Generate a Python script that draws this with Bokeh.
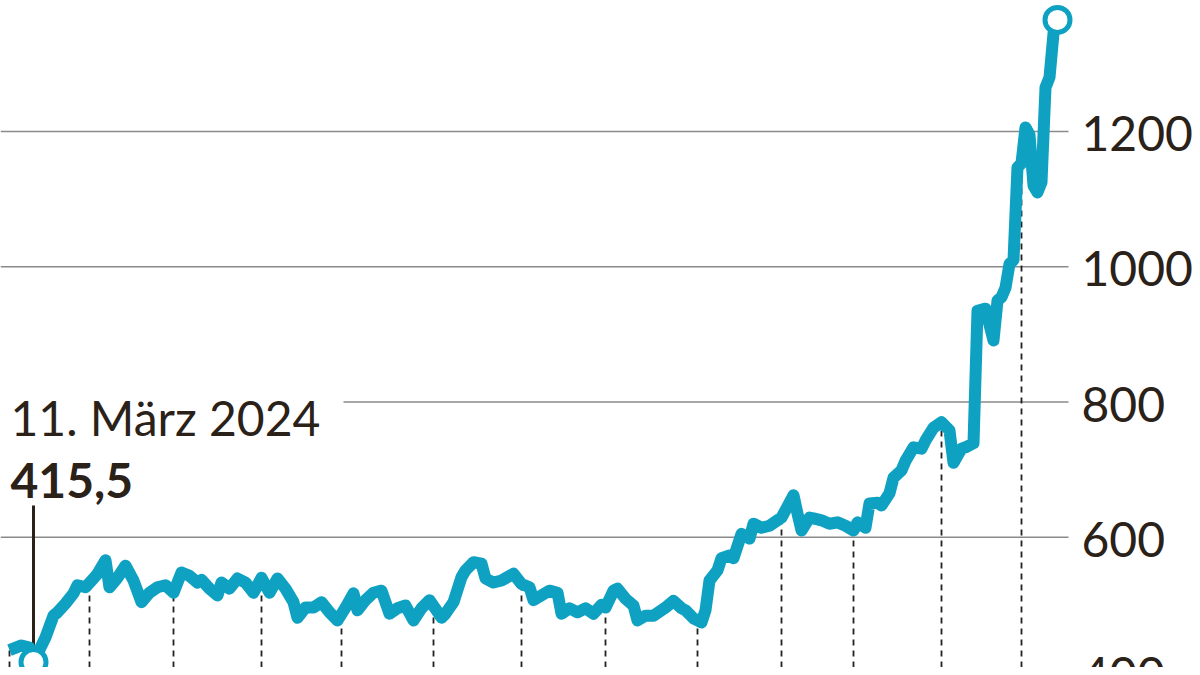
import numpy as np
from bokeh.plotting import figure
from bokeh.models import Range1d
from bokeh.core.properties import value
from bokeh.embed import file_html
from bokeh.resources import INLINE

# ---------------- data (trading days counted from 1 March 2024) ----------------
trading_day = [0, 3, 5, 6, 9, 11, 12, 14, 16, 17, 19, 21, 22, 24, 25, 27, 29, 31, 33, 35,
               37, 39, 41, 43, 45, 47, 48, 50, 52, 53, 55, 57, 59, 61, 63, 65, 67, 69, 71, 72,
               74, 76, 78, 80, 82, 84, 86, 87, 89, 91, 93, 95, 97, 99, 101, 103, 105, 108, 109, 111,
               113, 114, 116, 118, 119, 121, 123, 126, 128, 130, 131, 133, 135, 137, 138, 140, 142, 144, 146, 148,
               149, 151, 152, 154, 156, 157, 159, 161, 163, 164, 166, 168, 169, 171, 173, 174, 175, 177, 178, 180,
               181, 183, 185, 186, 188, 190, 192, 193, 196, 197, 198, 200, 201, 203, 205, 207, 209, 211, 212, 214,
               215, 217, 218, 220, 221, 223, 224, 226, 228, 229, 231, 233, 235, 236, 238, 239, 241, 242, 244, 246,
               247, 248, 249, 250, 251, 252, 253, 254, 255, 256, 257, 258, 259, 260, 261, 262]
price = [433, 440, 437, 415.5, 452, 484, 489, 502, 517, 529, 526, 539, 546, 566, 526, 540, 558, 536, 504, 518,
         526, 529, 518, 548, 543, 533, 537, 524, 514, 533, 524, 539, 533, 518, 540, 518, 539, 524, 504, 481,
         496, 496, 504, 489, 477, 496, 517, 492, 507, 518, 521, 487, 495, 499, 477, 495, 507, 481, 487, 504,
         541, 551, 563, 561, 539, 533, 536, 546, 531, 526, 507, 514, 521, 518, 487, 495, 489, 495, 487, 500,
         496, 521, 524, 509, 499, 477, 484, 484, 492, 496, 506, 495, 492, 480, 474, 492, 536, 551, 569, 573,
         569, 605, 598, 620, 614, 617, 625, 629, 662, 635, 610, 629, 628, 625, 620, 622, 617, 610, 622, 614,
         650, 651, 647, 665, 688, 699, 713, 733, 731, 743, 762, 770, 758, 710, 731, 733, 739, 935, 938, 891,
         950, 955, 969, 1004, 1010, 1147, 1153, 1206, 1195, 1120, 1110, 1125, 1265, 1280, 1345, 1365]

# first trading day of each month, Mar 2024 .. Mar 2025
month_start_day = [0, 20, 41, 63, 83, 106, 128, 149, 172, 193, 211, 233, 253]

y_ticks = [400, 600, 800, 1000, 1200]
y_tick_labels = ["400", "600", "800", "1000", "1200"]

start_day = 6
start_value = 415.5
start_date_text = "11. März 2024"
start_value_text = "415,5"

# ---------------- layout helpers (reference-pixel -> data) ----------------
W, H = 1192, 667
PX_PER_DAY = 4.0
X_DAY0 = 9
PX_PER_UNIT = 135.25 / 200.0
Y_400 = 672


def day_at(px):
    return (px - X_DAY0) / PX_PER_DAY


def val_at(py):
    return 400 + (Y_400 - py) / PX_PER_UNIT


TEAL = "#0fa1c1"
INK = "#2a2119"
GRID = "#8a8a8a"
FONT = value("Lato")

p = figure(width=W, height=H,
           x_range=Range1d(day_at(0), day_at(W)),
           y_range=Range1d(val_at(H), val_at(0)),
           min_border=0, toolbar_location=None, output_backend="svg",
           x_axis_location=None, y_axis_location=None,
           outline_line_color=None, background_fill_color="white",
           border_fill_color="white")
p.grid.visible = False

# horizontal grid lines
grid_start = [day_at(0) if t != 800 else day_at(343) for t in y_ticks]
grid_end = [day_at(1068)] * len(y_ticks)
p.segment(x0=grid_start, y0=y_ticks, x1=grid_end, y1=y_ticks,
          line_color=GRID, line_width=1.3)

# tick labels on the right
p.text(x=[day_at(1081)] * len(y_ticks), y=y_ticks, text=y_tick_labels,
       text_font=FONT, text_font_size="48px", text_color=INK,
       text_baseline="middle", text_align="left", y_offset=2)

# dashed month markers from bottom to the line
dash_top = np.interp(month_start_day, trading_day, price)
p.segment(x0=month_start_day, y0=[val_at(700)] * len(month_start_day),
          x1=month_start_day, y1=dash_top,
          line_color="#222222", line_width=1.8, line_dash="6 5")

# start marker line
p.segment(x0=[start_day], y0=[start_value], x1=[start_day], y1=[val_at(505)],
          line_color=INK, line_width=3)

# the price line
p.line(trading_day, price, line_width=12, line_color=TEAL, line_join="round")

# end circles
p.scatter([start_day, trading_day[-1]], [start_value, price[-1]], size=25,
          fill_color="white", line_color=TEAL, line_width=5)

# annotations
p.text(x=[day_at(10)], y=[val_at(417)], text=[start_date_text],
       text_font=FONT, text_font_size="48px", text_color=INK,
       text_baseline="alphabetic", text_align="left")
p.text(x=[day_at(10)], y=[val_at(480)], text=[start_value_text],
       text_font=FONT, text_font_size="48px", text_font_style="bold",
       text_color=INK, text_baseline="alphabetic", text_align="left")

open("out.html", "w").write(file_html(p, INLINE))
